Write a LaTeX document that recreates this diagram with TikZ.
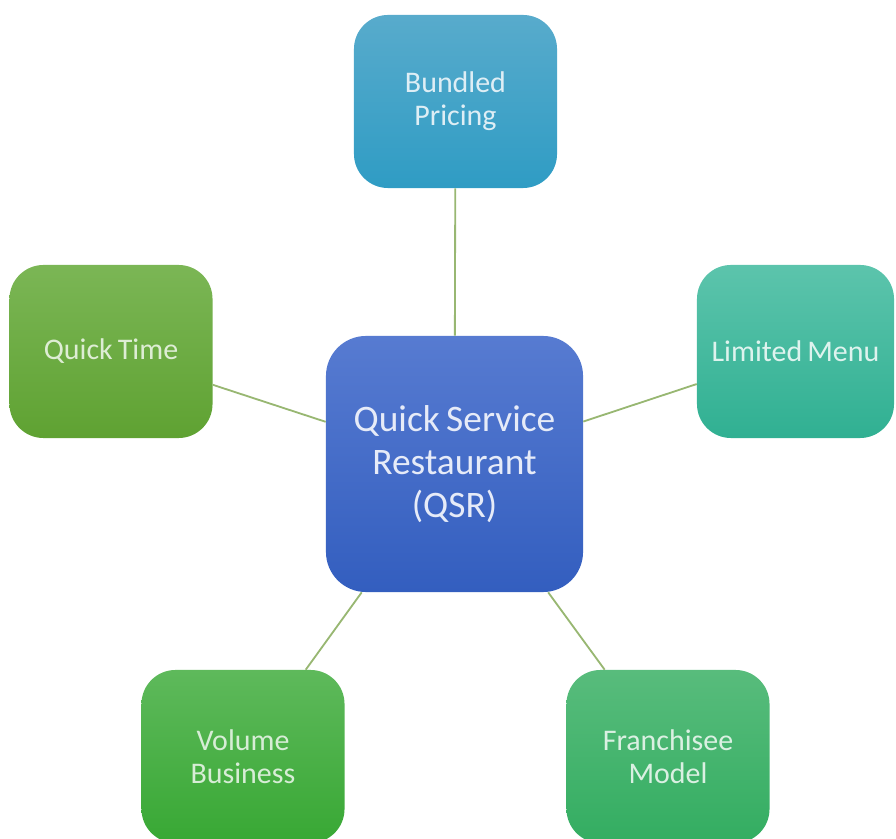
\documentclass[tikz,border=0pt]{standalone}
\usepackage{fontspec}
\setmainfont{Carlito}[WordSpace=0.75]
\definecolor{topA}{HTML}{58ABCC}\definecolor{topB}{HTML}{2F9CC4}
\definecolor{leftA}{HTML}{7BB655}\definecolor{leftB}{HTML}{5FA232}
\definecolor{rightA}{HTML}{5CC4AC}\definecolor{rightB}{HTML}{30B092}
\definecolor{cenA}{HTML}{577BD1}\definecolor{cenB}{HTML}{335EBF}
\definecolor{blA}{HTML}{5EB95B}\definecolor{blB}{HTML}{38A834}
\definecolor{brA}{HTML}{58BC7C}\definecolor{brB}{HTML}{33AD61}
\definecolor{linkcol}{HTML}{98B772}
\tikzset{
  outerbox/.style={rounded corners=0.85cm, minimum width=5.075cm, minimum height=4.325cm,
    inner sep=0pt, align=center, font=\fontsize{21.3pt}{23.5pt}\selectfont},
  centerbox/.style={rounded corners=1cm, minimum width=6.425cm, minimum height=6.4cm,
    inner sep=0pt, align=center, font=\fontsize{26.6pt}{30.5pt}\selectfont},
  link/.style={draw=linkcol, line width=1.3pt}
}
\begin{document}
\begin{tikzpicture}[x=0.025cm,y=-0.025cm]
\useasboundingbox (0,0) rectangle (896,839);
\clip (0,0) rectangle (896,839);
\node[centerbox, top color=cenA, bottom color=cenB, text=white!85!cenA] (c) at (454.5,464) {Quick Service\\Restaurant\\(QSR)};
\node[outerbox, top color=topA, bottom color=topB, text=white!80!topA] (t) at (455.5,101.5) {Bundled\\Pricing};
\node[outerbox, top color=leftA, bottom color=leftB, text=white!75!leftA] (l) at (111,351.5) {Quick Time};
\node[outerbox, minimum width=4.925cm, top color=rightA, bottom color=rightB, text=white!80!rightA] (r) at (795.5,351.5) {Limited Menu};
\node[outerbox, top color=blA, bottom color=blB, text=white!75!blA] (bl) at (243,756.5) {Volume\\Business};
\node[outerbox, top color=brA, bottom color=brB, text=white!78!brA] (br) at (668,756.5) {Franchisee\\Model};
\draw[link] (c) -- (t);
\draw[link] (c) -- (l);
\draw[link] (c) -- (r);
\draw[link] (c) -- (bl);
\draw[link] (c) -- (br);
\end{tikzpicture}
\end{document}
